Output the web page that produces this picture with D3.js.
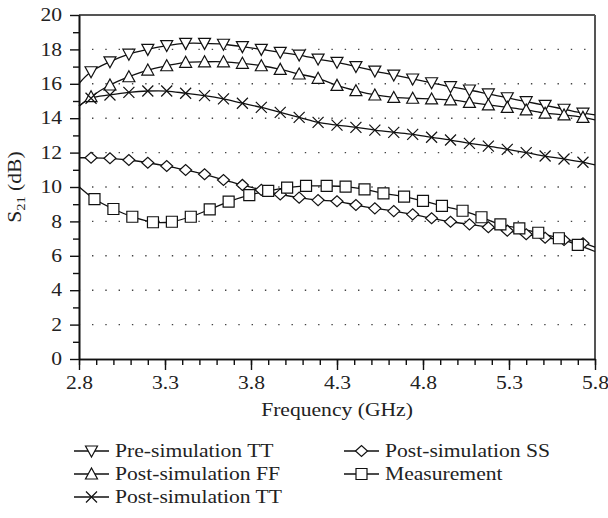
<!DOCTYPE html>
<html>
<head>
<meta charset="utf-8">
<script src="https://cdn.jsdelivr.net/npm/d3@7"></script>
<style>
  body { margin: 0; background: #fff; }
  svg { display: block; }
  text { font-family: "Liberation Serif", "Times New Roman", serif; fill: #222; }
</style>
</head>
<body>
<svg id="chart" width="608" height="518"></svg>
<script>
// marker frequencies (GHz)
const simFreq = [2.87, 2.98, 3.09, 3.20, 3.31, 3.42, 3.53, 3.64, 3.75, 3.86, 3.97, 4.08, 4.19, 4.30,
  4.41, 4.52, 4.63, 4.74, 4.85, 4.96, 5.07, 5.18, 5.29, 5.40, 5.51, 5.62, 5.73];
const measFreq = [2.89, 3.00, 3.11, 3.23, 3.34, 3.45, 3.56, 3.67, 3.79, 3.90, 4.01, 4.12, 4.24,
  4.35, 4.46, 4.57, 4.69, 4.80, 4.91, 5.03, 5.14, 5.25, 5.36, 5.47, 5.59, 5.70];

// S21 (dB) at the markers
const preTT = [16.70, 17.28, 17.72, 18.00, 18.22, 18.35, 18.35, 18.30, 18.16, 18.00, 17.83, 17.67, 17.44, 17.25,
  17.00, 16.74, 16.51, 16.28, 16.06, 15.83, 15.64, 15.41, 15.19, 14.96, 14.75, 14.52, 14.29];
const postFF = [15.25, 15.93, 16.41, 16.80, 17.05, 17.25, 17.28, 17.28, 17.19, 17.05, 16.84, 16.57, 16.32, 15.91,
  15.60, 15.35, 15.21, 15.16, 15.12, 15.06, 14.92, 14.77, 14.63, 14.48, 14.29, 14.19, 14.05];
const postTT = [15.16, 15.35, 15.50, 15.58, 15.58, 15.45, 15.31, 15.12, 14.87, 14.63, 14.34, 14.05, 13.76, 13.60,
  13.47, 13.31, 13.18, 13.06, 12.89, 12.73, 12.54, 12.38, 12.19, 12.00, 11.80, 11.63, 11.44];
const postSS = [11.70, 11.67, 11.57, 11.41, 11.22, 10.99, 10.74, 10.41, 10.12, 9.83, 9.57, 9.38, 9.24, 9.17,
  8.95, 8.76, 8.60, 8.41, 8.18, 7.98, 7.83, 7.66, 7.46, 7.25, 7.05, 6.92, 6.73];
const measured = [9.30, 8.72, 8.27, 7.95, 7.98, 8.27, 8.70, 9.15, 9.53, 9.77, 9.96, 10.06, 10.06,
  10.02, 9.86, 9.63, 9.44, 9.19, 8.90, 8.62, 8.24, 7.83, 7.60, 7.34, 7.02, 6.63];

// fitted-curve values at the band edges (2.8 GHz, 5.8 GHz)
const preTTEnds = [16.02, 14.19];
const postFFEnds = [14.70, 13.90];
const postTTEnds = [14.70, 11.28];
const postSSEnds = [11.70, 6.50];
const measuredEnds = [10.02, 6.25];

const seriesNames = ["Pre-simulation TT", "Post-simulation FF", "Post-simulation TT", "Post-simulation SS", "Measurement"];
const xMajor = [2.8, 3.3, 3.8, 4.3, 4.8, 5.3, 5.8];
const yMajor = [0, 2, 4, 6, 8, 10, 12, 14, 16, 18, 20];

const series = [
  { name: seriesNames[0], freq: simFreq, vals: preTT, ends: preTTEnds, shape: "down" },
  { name: seriesNames[1], freq: simFreq, vals: postFF, ends: postFFEnds, shape: "up" },
  { name: seriesNames[2], freq: simFreq, vals: postTT, ends: postTTEnds, shape: "cross" },
  { name: seriesNames[3], freq: simFreq, vals: postSS, ends: postSSEnds, shape: "diamond" },
  { name: seriesNames[4], freq: measFreq, vals: measured, ends: measuredEnds, shape: "square" },
];

const W = 608, H = 518;
const m = { top: 15, right: 13, bottom: 159, left: 79 };
const pw = W - m.left - m.right;
const ph = H - m.top - m.bottom;
const FS = 18;        // font size
const SX = 1.2;       // the source typesetting is a little wide

const svg = d3.select("#chart");
const g = svg.append("g").attr("transform", `translate(${m.left},${m.top})`);

const x = d3.scaleLinear().domain([2.8, 5.8]).range([0, pw]);
const y = d3.scaleLinear().domain([0, 20]).range([ph, 0]);

// dotted grid
g.append("g")
  .selectAll("line")
  .data(yMajor.filter((v) => v > 0 && v < 20))
  .join("line")
  .attr("x1", 0)
  .attr("x2", pw)
  .attr("y1", (d) => y(d))
  .attr("y2", (d) => y(d))
  .attr("stroke", "#444")
  .attr("stroke-width", 1.4)
  .attr("stroke-dasharray", "1.4,11.9")
  .attr("stroke-dashoffset", 0.3);

// frame: top and right in grey
g.append("line").attr("x1", 0).attr("x2", pw).attr("y1", 0).attr("y2", 0)
  .attr("stroke", "#555").attr("stroke-width", 2);
g.append("line").attr("x1", pw).attr("x2", pw).attr("y1", 0).attr("y2", ph)
  .attr("stroke", "#555").attr("stroke-width", 2);

// axes
const styleAxis = (sel) => {
  sel.select(".domain").attr("stroke", "#111").attr("stroke-width", 1.6);
  sel.selectAll(".tick line").attr("stroke", "#111").attr("stroke-width", 1.4);
  sel.selectAll("text").attr("font-size", FS).attr("fill", "#222")
    .style("font-family", '"Liberation Serif", "Times New Roman", serif');
};
// widen glyphs without moving the anchor
const stretch = (sel) => {
  sel.each(function () {
    const t = d3.select(this);
    const tx = +t.attr("x") || 0;
    t.attr("x", tx / SX).attr("transform", `scale(${SX},1)`);
  });
};

g.append("g")
  .attr("transform", `translate(0,${ph})`)
  .call(d3.axisBottom(x).tickValues(d3.range(2.8, 5.85, 0.1)).tickSize(6).tickFormat("").tickSizeOuter(0))
  .call(styleAxis);
g.append("g")
  .attr("transform", `translate(0,${ph})`)
  .call(d3.axisBottom(x).tickValues(xMajor).tickSize(11).tickPadding(6).tickFormat(d3.format(".1f")).tickSizeOuter(0))
  .call(styleAxis)
  .call((a) => a.selectAll(".tick text").call(stretch));

g.append("g")
  .call(d3.axisLeft(y).tickValues(d3.range(1, 20, 2)).tickSize(6).tickFormat("").tickSizeOuter(0))
  .call(styleAxis);
g.append("g")
  .call(d3.axisLeft(y).tickValues(yMajor).tickSize(9).tickPadding(8).tickFormat(d3.format("d")).tickSizeOuter(0))
  .call(styleAxis)
  .call((a) => a.selectAll(".tick text").call(stretch));

// axis titles
svg.append("g")
  .attr("transform", `translate(${m.left + pw / 2},416)`)
  .append("text")
  .attr("text-anchor", "middle")
  .attr("font-size", FS)
  .text("Frequency (GHz)")
  .call(stretch);

const yt = svg.append("text")
  .attr("transform", `translate(21,${m.top + ph / 2}) rotate(-90) scale(${SX},1)`)
  .attr("text-anchor", "middle")
  .attr("font-size", FS);
yt.append("tspan").text("S");
yt.append("tspan").attr("font-size", 12).attr("dy", 4).text("21");
yt.append("tspan").attr("dy", -4).text(" (dB)");

// marker shapes
function markerPath(shape) {
  const p = d3.path();
  if (shape === "down") {
    p.moveTo(-6, -5); p.lineTo(6, -5); p.lineTo(0, 6); p.closePath();
  } else if (shape === "up") {
    p.moveTo(-6, 5); p.lineTo(6, 5); p.lineTo(0, -6); p.closePath();
  } else if (shape === "diamond") {
    p.moveTo(-6, 0); p.lineTo(0, -5.5); p.lineTo(6, 0); p.lineTo(0, 5.5); p.closePath();
  } else if (shape === "square") {
    p.rect(-5.5, -5.5, 11, 11);
  } else {
    p.moveTo(-5.5, -5.5); p.lineTo(5.5, 5.5); p.moveTo(-5.5, 5.5); p.lineTo(5.5, -5.5);
  }
  return p.toString();
}

const line = d3.line()
  .x((d) => x(d[0]))
  .y((d) => y(d[1]))
  .curve(d3.curveCatmullRom.alpha(0.5));

const plot = g.append("g");
for (const s of series) {
  const pts = [[2.8, s.ends[0]], ...s.freq.map((f, i) => [f, s.vals[i]]), [5.8, s.ends[1]]];
  plot.append("path")
    .attr("d", line(pts))
    .attr("fill", "none")
    .attr("stroke", "#111")
    .attr("stroke-width", 1.3);
}
for (const s of series) {
  plot.append("g")
    .selectAll("path")
    .data(s.freq.map((f, i) => [f, s.vals[i]]))
    .join("path")
    .attr("transform", (d) => `translate(${x(d[0])},${y(d[1])})`)
    .attr("d", markerPath(s.shape))
    .attr("fill", s.shape === "cross" ? "none" : "#fff")
    .attr("stroke", "#111")
    .attr("stroke-width", 1.2);
}

// legend
const legendPos = [[74, 451], [74, 474], [74, 497], [344, 451], [344, 474]];
const leg = svg.append("g");
series.forEach((s, i) => {
  const [lx, ly] = legendPos[i];
  const it = leg.append("g").attr("transform", `translate(${lx},${ly})`);
  it.append("line").attr("x1", 0).attr("x2", 35).attr("stroke", "#111").attr("stroke-width", 1.3);
  it.append("path").attr("transform", "translate(17.5,0)")
    .attr("d", markerPath(s.shape))
    .attr("fill", s.shape === "cross" ? "none" : "#fff")
    .attr("stroke", "#111").attr("stroke-width", 1.2);
  it.append("g").attr("transform", "translate(41,0)")
    .append("text").attr("dy", "0.33em").attr("font-size", FS).text(s.name)
    .call(stretch);
});
</script>
</body>
</html>
